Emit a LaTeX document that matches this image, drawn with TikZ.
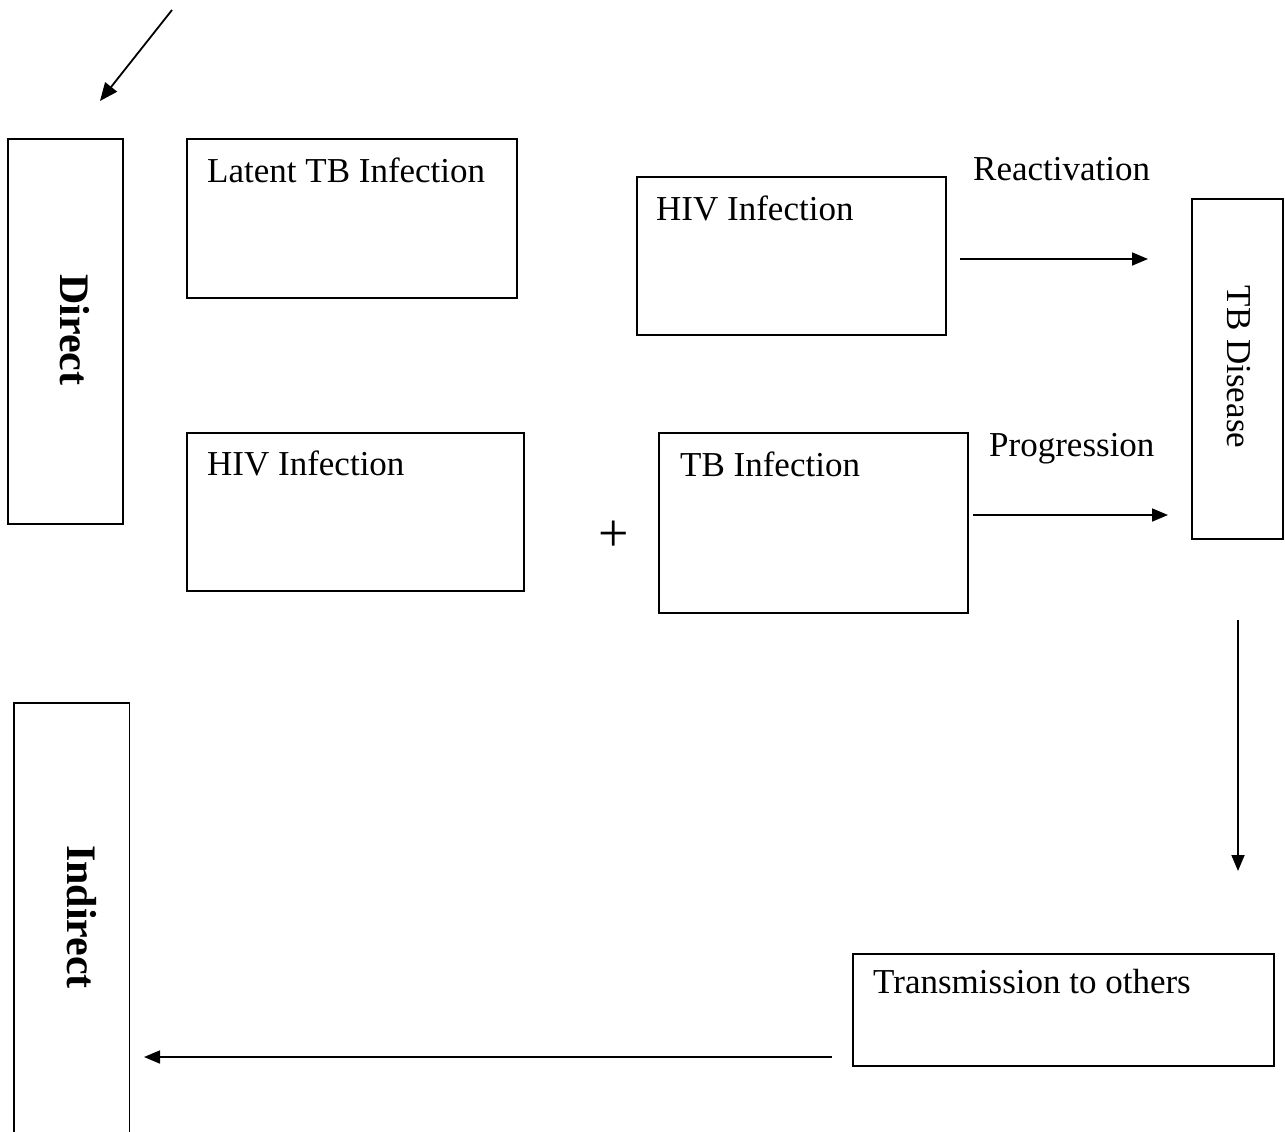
\documentclass[tikz,border=0pt]{standalone}
\usepackage{fontspec}
\setmainfont{Liberation Serif}
\usetikzlibrary{arrows.meta}
\begin{document}
\begin{tikzpicture}[x=1pt,y=-1pt,
  box/.style={draw,line width=1.8pt,inner sep=0pt,anchor=north west},
  lbl/.style={inner sep=0pt,anchor=base west,font=\fontsize{35}{42}\selectfont},
  vlbl/.style={inner sep=0pt,rotate=-90,font=\fontsize{35}{42}\selectfont},
  blbl/.style={inner sep=0pt,rotate=-90,font=\fontsize{42}{50}\selectfont\bfseries},
  arr/.style={line width=1.7pt,-{Triangle[length=16pt,width=13pt]}},
  bigarr/.style={line width=1.8pt,-{Triangle[length=18pt,width=15pt]}}]
\useasboundingbox[fill=white] (0,0) rectangle (1285,1132);

% boxes
\node[box,minimum width=115,minimum height=385] (direct) at (7,138) {};
\node[box,minimum width=330,minimum height=159] (latent) at (186,138) {};
\node[box,minimum width=309,minimum height=158] (hivtop) at (636,176) {};
\node[box,minimum width=91,minimum height=340] (tbd) at (1191,198) {};
\node[box,minimum width=337,minimum height=158] (hivbot) at (186,432) {};
\node[box,minimum width=309,minimum height=180] (tbinf) at (658,432) {};
\node[box,minimum width=421,minimum height=112] (trans) at (852,953) {};
\node[inner sep=0pt,anchor=north west,minimum width=115,minimum height=429] (indirect) at (14,703) {};
\draw[line width=1.8pt] (indirect.south west) -- (indirect.north west) -- (indirect.north east) -- (indirect.south east);

% texts
\node[blbl] (directtxt) at (75,330) {Direct};
\node[blbl] (indirecttxt) at (82,917) {Indirect};
\node[vlbl] (tbdtxt) at (1239,367) {TB Disease};
\node[lbl] (latenttxt) at (207,182) {Latent TB Infection};
\node[lbl] (hivtoptxt) at (656,220) {HIV Infection};
\node[lbl] (hivbottxt) at (207,475) {HIV Infection};
\node[lbl] (tbinftxt) at (680,476) {TB Infection};
\node[lbl] (transtxt) at (873,993) {Transmission to others};
\node[lbl] (reacttxt) at (973,180) {Reactivation};
\node[lbl] (progtxt) at (989,456) {Progression};
\node[inner sep=0pt,font=\fontsize{54}{60}\selectfont] (plus) at (614,536) {+};

% connectors
\coordinate (a0) at (172,10);
\coordinate (a1) at (100,101);
\coordinate (r0) at (960,259);
\coordinate (r1) at (1148,259);
\coordinate (p0) at (973,515);
\coordinate (p1) at (1168,515);
\coordinate (d0) at (1238,620);
\coordinate (d1) at (1238,871);
\coordinate (t0) at (832,1057);
\coordinate (t1) at (144,1057);
\draw[bigarr] (a0) -- (a1);
\draw[arr] (r0) -- (r1);
\draw[arr] (p0) -- (p1);
\draw[arr] (d0) -- (d1);
\draw[arr] (t0) -- (t1);
\end{tikzpicture}
\end{document}
